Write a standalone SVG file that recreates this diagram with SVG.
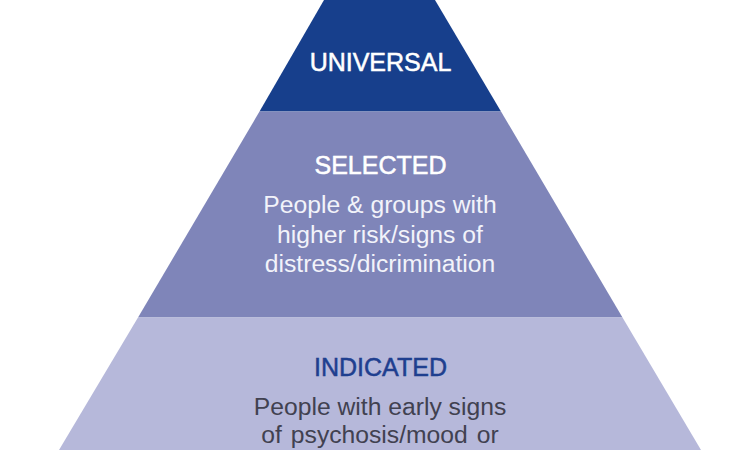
<svg xmlns="http://www.w3.org/2000/svg" width="750" height="450" viewBox="0 0 750 450">
<style>
text{font-family:"Liberation Sans",Arial,sans-serif;text-anchor:middle}
.h{font-size:25px;stroke-width:.5px}
.b{font-size:24.7px}
.w{fill:#fff}
</style>
<rect width="750" height="450" fill="#fff"/>
<g id="universal">
<polygon points="324,0 435,0 501,111.500 259.500,111.500" fill="#173f8c"/>
<text class="h w" x="380.500" y="71" stroke="#fff">UNIVERSAL</text>
</g>
<g id="selected">
<polygon points="259.500,111.500 501,111.500 622.500,317.500 138,317.500" fill="#7f85b9"/>
<text class="h w" x="380.500" y="174" stroke="#fff">SELECTED</text>
<text class="b" x="380" y="213" fill="#f2f3fa">People &amp; groups with</text>
<text class="b" x="380" y="243" fill="#f2f3fa">higher risk/signs of</text>
<text class="b" x="380" y="272" fill="#f2f3fa">distress/dicrimination</text>
</g>
<g id="indicated">
<polygon points="138,317.500 622.500,317.500 701,450 59,450" fill="#b6b8da"/>
<text class="h" x="380.500" y="376" fill="#1f3f8f" stroke="#1f3f8f">INDICATED</text>
<text class="b" x="380" y="415" fill="#414150">People with early signs</text>
<text class="b" x="380" y="443" fill="#414150" word-spacing="2">of psychosis/mood or</text>
</g>
</svg>
